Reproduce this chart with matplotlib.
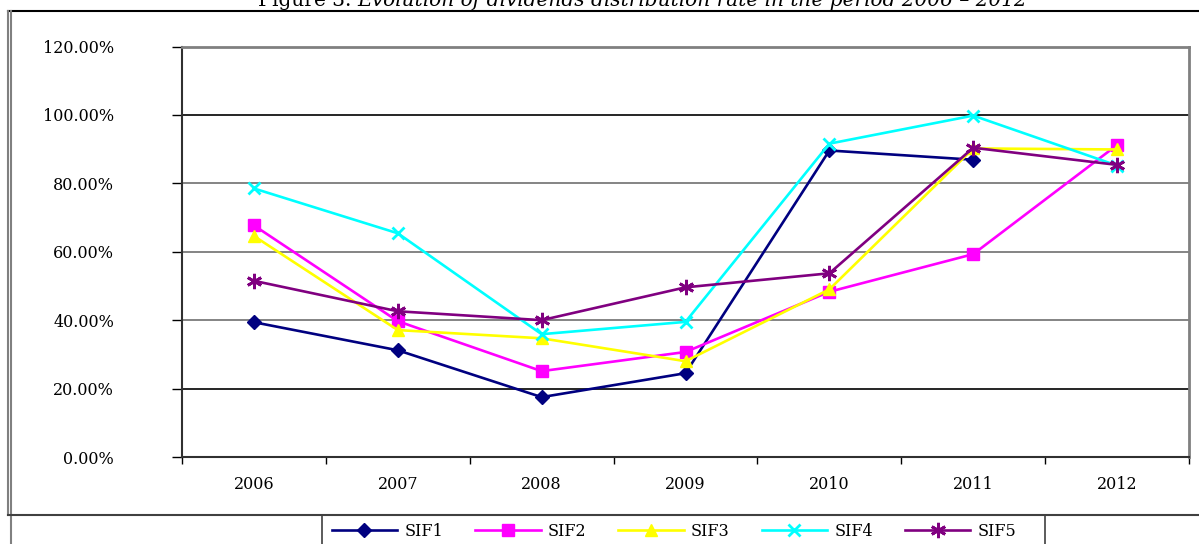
import numpy as np
import matplotlib.pyplot as plt
from matplotlib.lines import Line2D

# data (percent)
years = ["2006", "2007", "2008", "2009", "2010", "2011", "2012"]
sif1 = [39.4, 31.2, 17.5, 24.5, 89.6, 86.9, np.nan]
sif2 = [67.7, 39.7, 25.1, 30.7, 48.3, 59.3, 91.2]
sif3 = [64.6, 37.1, 34.7, 28.0, 49.0, 90.2, 89.9]
sif4 = [78.5, 65.4, 35.9, 39.5, 91.6, 99.8, 85.2]
sif5 = [51.5, 42.6, 40.0, 49.6, 53.7, 90.4, 85.4]
series_names = ["SIF1", "SIF2", "SIF3", "SIF4", "SIF5"]
yticks = [0, 20, 40, 60, 80, 100, 120]

W, H = 1199, 544
FONT = "DejaVu Serif"


def fx(px):
    return px / W


def fy(py):
    return 1 - py / H


fig = plt.figure(figsize=(W / 100, H / 100), dpi=100)
ax = fig.add_axes([fx(182), fy(457), fx(1189) - fx(182), fy(46.5) - fy(457)])

# series styling
styles = [
    dict(color="#000080", marker="D", ms=7),
    dict(color="#FF00FF", marker="s", ms=8),
    dict(color="#FFFF00", marker="^", ms=9),
    dict(color="#00FFFF", marker="x", ms=9, mew=2),
    dict(color="#800080", marker=(6, 2, 0), ms=11, mew=2),
]
x = np.arange(len(years))
for name, vals, st in zip(series_names, [sif1, sif2, sif3, sif4, sif5], styles):
    ax.plot(x, vals, lw=1.9, label=name, clip_on=False, **st)

ax.set_xlim(-0.5, len(years) - 0.5)
ax.set_ylim(0, 120)

# gridlines
for v in yticks[1:-1]:
    c = "black" if v in (20, 100) else "#707070"
    ax.axhline(v, color=c, lw=1.2, zorder=0)

ax.set_yticks(yticks)
ax.set_yticklabels(["%.2f%%" % v for v in yticks], fontfamily=FONT, fontsize=11.5)
ax.tick_params(axis="y", length=7, width=1, pad=42, color="black")

ax.set_xticks(x)
ax.set_xticklabels(years, fontfamily=FONT, fontsize=11.5)
ax.set_xticks(np.arange(-0.5, len(years)), minor=True)
ax.tick_params(axis="x", which="major", length=0, pad=14)
ax.tick_params(axis="x", which="minor", length=5, width=1, color="black")

ax.spines["left"].set_color("#303030")
ax.spines["left"].set_linewidth(1.5)
ax.spines["bottom"].set_color("#303030")
ax.spines["bottom"].set_linewidth(1.5)
ax.spines["top"].set_color("#808080")
ax.spines["top"].set_linewidth(2)
ax.spines["right"].set_color("#808080")
ax.spines["right"].set_linewidth(2)

# outer frame lines
frame = [
    ([8, 1199], [10.5, 10.5], "black", 1.5),
    ([8, 8], [10.5, 515], "#808080", 1.5),
    ([11, 11], [10.5, 544], "#808080", 1.5),
    ([8, 1199], [515, 515], "#404040", 1.5),
    ([322, 322], [515, 544], "#404040", 1.2),
    ([1044.5, 1044.5], [515, 544], "#404040", 1.2),
]
for xs, ys, c, lw in frame:
    fig.add_artist(Line2D([fx(v) for v in xs], [fy(v) for v in ys],
                          transform=fig.transFigure, color=c, lw=lw))

leg = ax.legend(loc="center", bbox_to_anchor=(fx(674), fy(531)),
                bbox_transform=fig.transFigure, ncol=5, frameon=False,
                handlelength=4.1, handletextpad=0.45, columnspacing=2.0,
                prop=dict(family=FONT, size=11.5), borderpad=0)

# title, top half clipped by the page edge (as in the reference)
fig.canvas.draw()
r = fig.canvas.get_renderer()
t1 = fig.text(fx(258), fy(6), "Figure 3. ", fontfamily=FONT, fontsize=14.5, va="baseline")
bb = t1.get_window_extent(r)
fig.text(bb.x1 / W, fy(6),
         "Evolution of dividends distribution rate in the period 2006 \u2013 2012",
         fontfamily=FONT, fontsize=14.5, style="italic", va="baseline")

fig.savefig("out.png", dpi=100)
